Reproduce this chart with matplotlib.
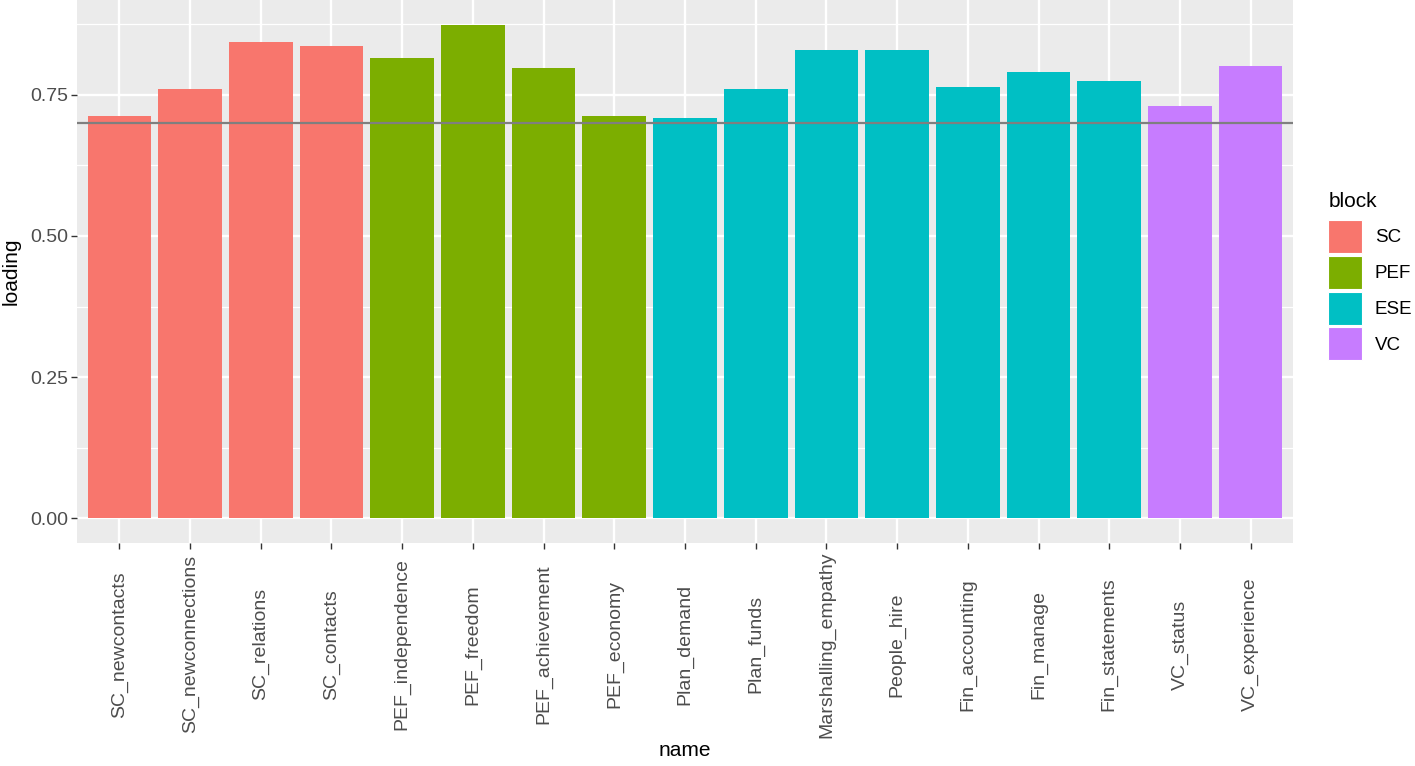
import matplotlib

matplotlib.use("Agg")
import matplotlib.pyplot as plt
from matplotlib.patches import Patch

names = [
    "SC_newcontacts", "SC_newconnections", "SC_relations", "SC_contacts",
    "PEF_independence", "PEF_freedom", "PEF_achievement", "PEF_economy",
    "Plan_demand", "Plan_funds", "Marshalling_empathy", "People_hire",
    "Fin_accounting", "Fin_manage", "Fin_statements",
    "VC_status", "VC_experience",
]
loadings = [
    0.712, 0.760, 0.844, 0.837,
    0.815, 0.874, 0.797, 0.712,
    0.709, 0.760, 0.830, 0.830,
    0.764, 0.790, 0.775,
    0.730, 0.800,
]
blocks = [
    "SC", "SC", "SC", "SC",
    "PEF", "PEF", "PEF", "PEF",
    "ESE", "ESE", "ESE", "ESE", "ESE", "ESE", "ESE",
    "VC", "VC",
]
block_order = ["SC", "PEF", "ESE", "VC"]
block_colors = {"SC": "#F8766D", "PEF": "#7CAE00", "ESE": "#00BFC4", "VC": "#C77CFF"}
threshold = 0.7

plt.rcParams["font.family"] = ["Liberation Sans", "DejaVu Sans"]

fig = plt.figure(figsize=(14.15, 7.66), dpi=100)
ax = fig.add_axes([0.0544, 0.2911, 0.8594, 0.7089])
ax.set_facecolor("#EBEBEB")

positions = list(range(1, len(names) + 1))
ax.bar(
    positions,
    loadings,
    width=0.9,
    color=[block_colors[b] for b in blocks],
    zorder=3,
)
ax.axhline(threshold, color="#7F7F7F", linewidth=1.6, zorder=4)

ymax = max(loadings)
pad = 0.05 * ymax
ax.set_xlim(0.4, len(names) + 0.6)
ax.set_ylim(-pad, ymax + pad)

ax.set_yticks([0.0, 0.25, 0.5, 0.75])
ax.set_yticklabels(["0.00", "0.25", "0.50", "0.75"])
ax.set_yticks([0.125, 0.375, 0.625, 0.875], minor=True)
ax.set_xticks(positions)
ax.set_xticklabels(names, rotation=90, ha="center", va="center")

ax.grid(True, which="major", color="white", linewidth=1.7, zorder=1)
ax.grid(True, which="minor", axis="y", color="white", linewidth=0.9, zorder=1)
ax.tick_params(axis="both", which="major", colors="#333333", length=4, width=1,
               labelsize=14, labelcolor="#4D4D4D")
ax.tick_params(axis="y", which="major", pad=2)
ax.tick_params(axis="x", which="major", pad=69)
ax.tick_params(axis="y", which="minor", length=0)
for spine in ax.spines.values():
    spine.set_visible(False)

ax.set_xlabel("name", fontsize=15, color="black", labelpad=0)
ax.xaxis.set_label_coords(0.5, -0.383, transform=ax.transAxes)
ax.xaxis.label.set_va("center")
ax.set_ylabel("loading", fontsize=15, color="black", labelpad=7)

# legend: title as plain text so it lines up with the keys like ggplot
fig.text(0.9392, 0.7298, "block", fontsize=15, color="black", ha="left", va="baseline")
handles = [Patch(facecolor=block_colors[b], edgecolor="white", linewidth=0.8) for b in block_order]
fig.legend(
    handles,
    block_order,
    loc="upper left",
    bbox_to_anchor=(0.9332, 0.7226),
    frameon=False,
    fontsize=13.5,
    handlelength=1.8,
    handleheight=2.33,
    labelspacing=0.15,
    handletextpad=0.7,
    borderaxespad=0,
)

fig.savefig("out.png", dpi=100)
